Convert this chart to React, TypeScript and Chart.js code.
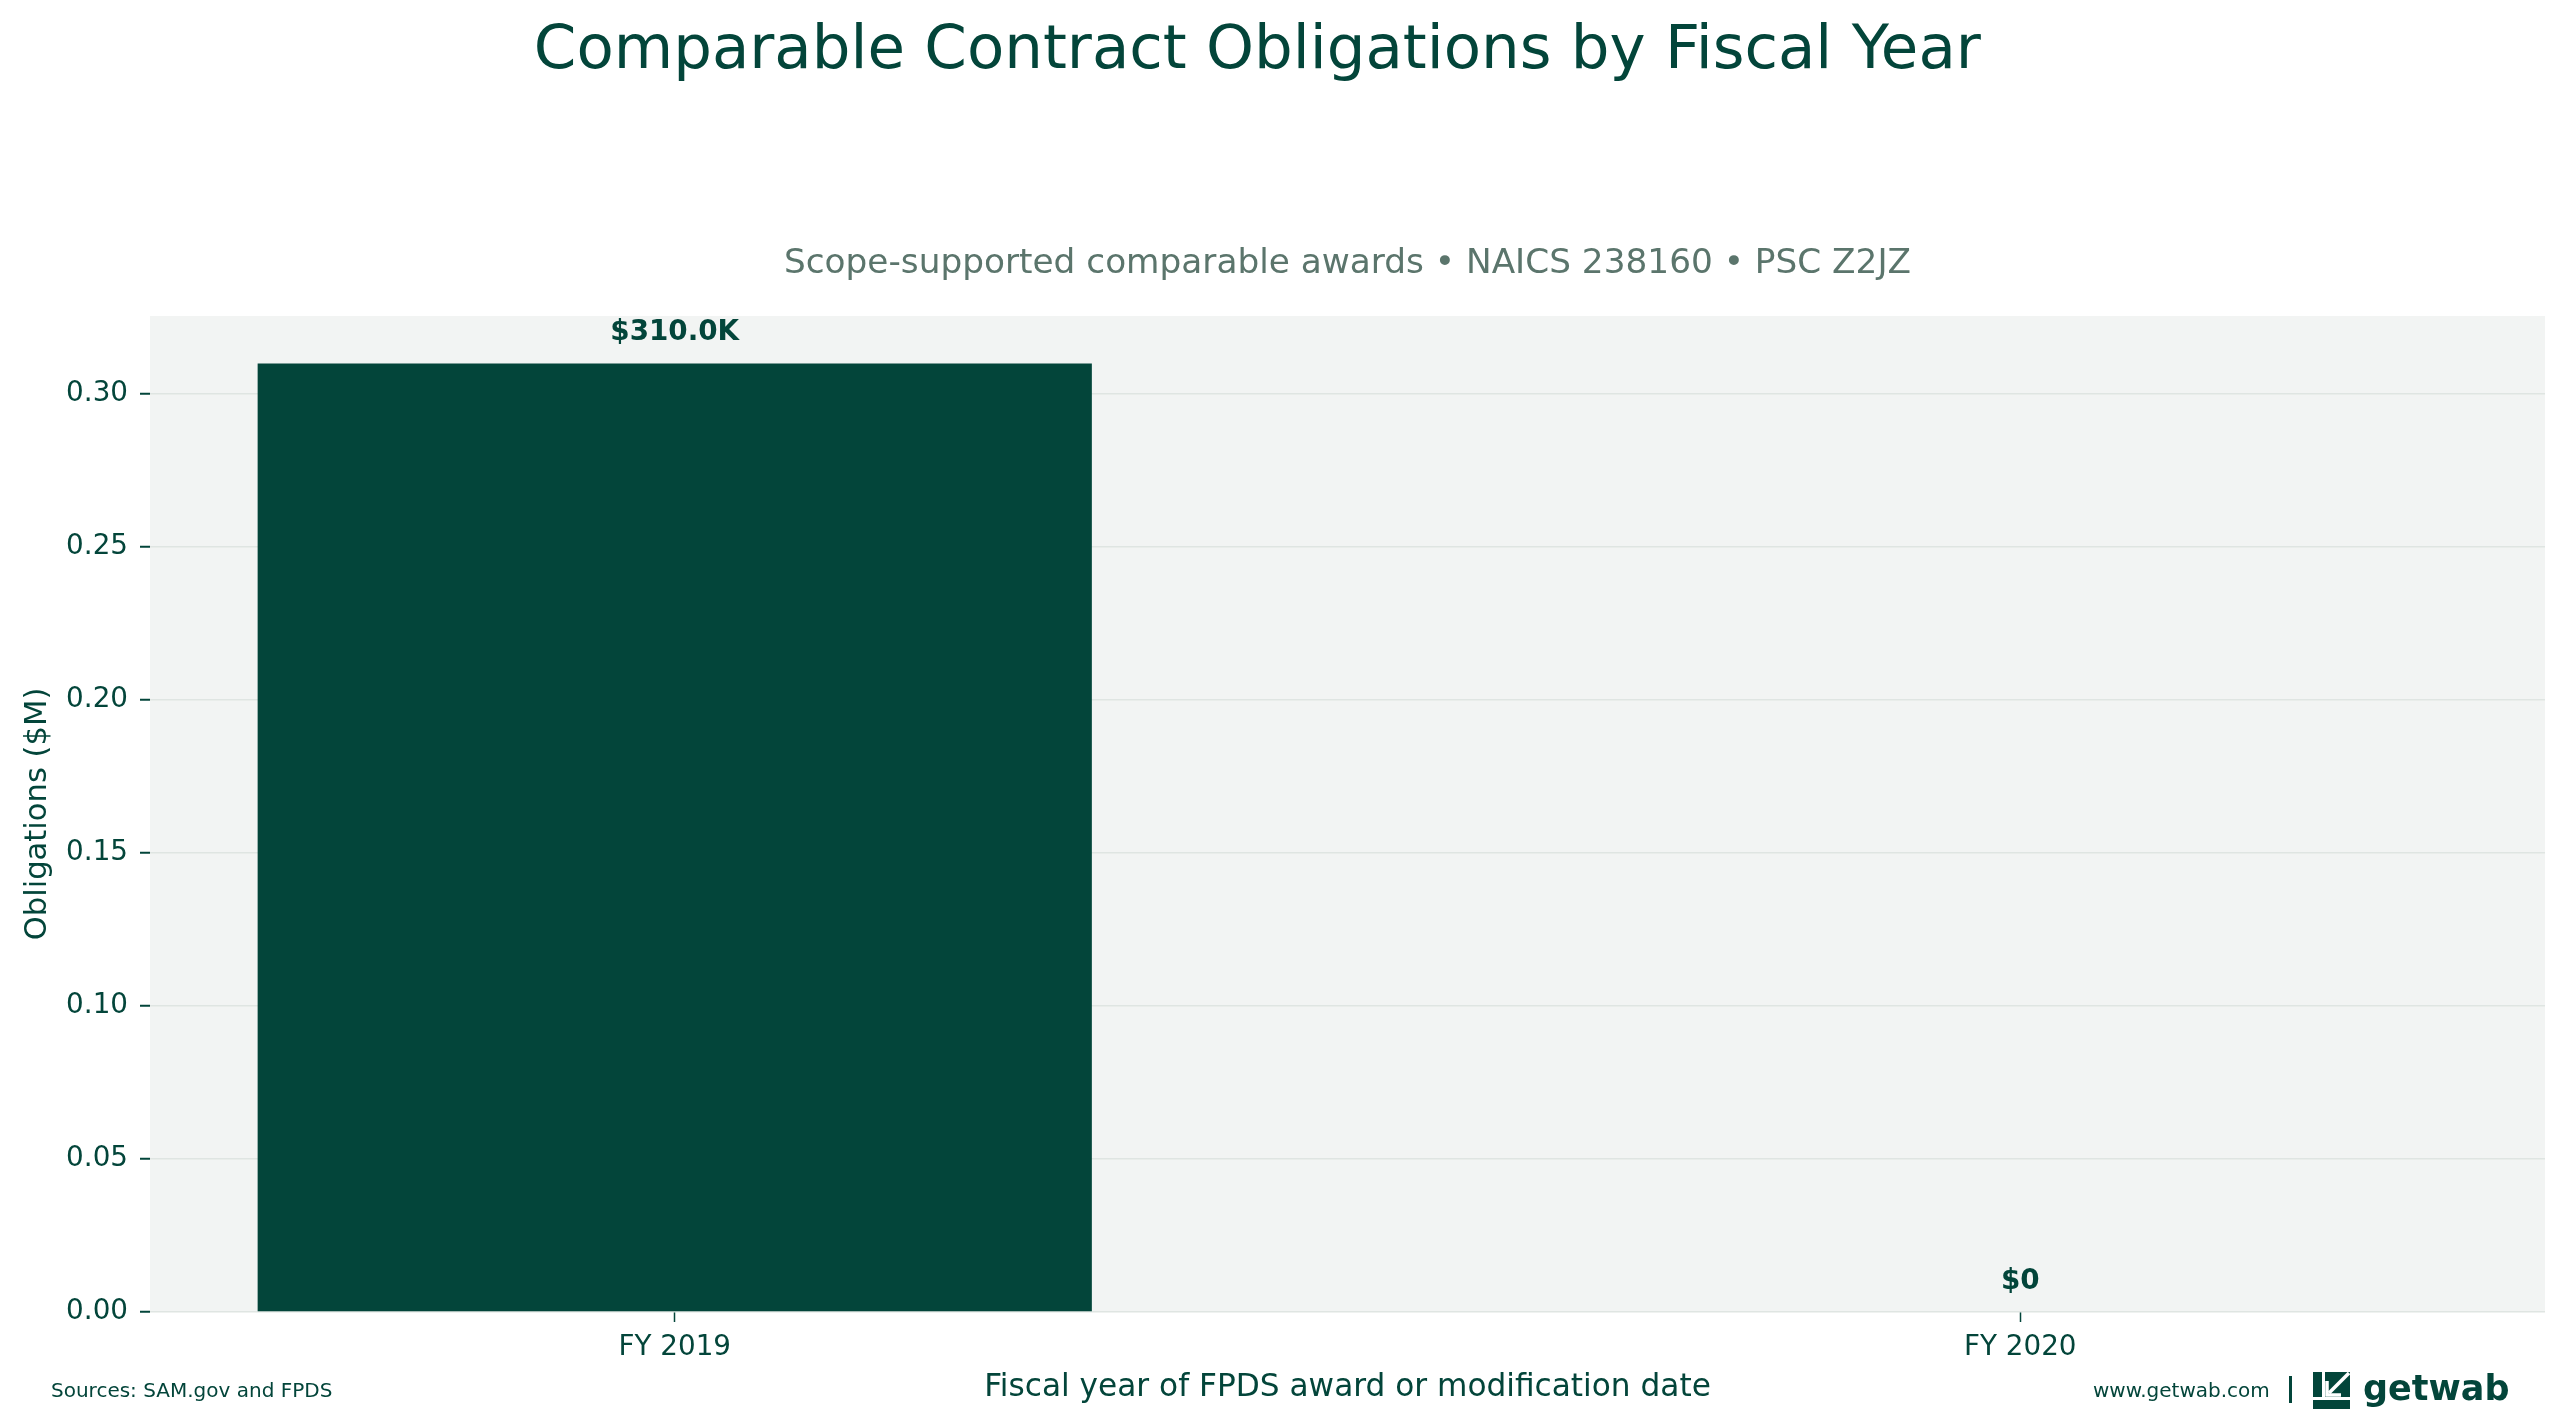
import { useEffect, useRef } from "react";
import { Chart, registerables } from "chart.js";

Chart.register(...registerables);

// data
const fiscalYears = ["FY 2019", "FY 2020"];
const obligationsM = [0.31, 0];
const yTicks = [0, 0.05, 0.1, 0.15, 0.2, 0.25, 0.3];

const TITLE = "Comparable Contract Obligations by Fiscal Year";
const SUBTITLE = "Scope-supported comparable awards \u2022 NAICS 238160 \u2022 PSC Z2JZ";
const X_TITLE = "Fiscal year of FPDS award or modification date";
const Y_TITLE = "Obligations ($M)";
const SOURCES = "Sources: SAM.gov and FPDS";
const SITE = "www.getwab.com";

const GREEN = "#03453a";
const FONT = "DejaVu Sans";

const fmtLabel = (v: number) => (v === 0 ? "$0" : `$${(v * 1000).toFixed(1)}K`);

const drawLogo = (ctx: CanvasRenderingContext2D, x: number, y: number) => {
  // icon: dark block with a white down-left arrow
  ctx.fillStyle = GREEN;
  ctx.fillRect(x, y, 9, 25);
  ctx.fillRect(x + 12, y, 25, 25);
  ctx.fillRect(x, y + 28, 37, 9);
  ctx.strokeStyle = "#ffffff";
  ctx.lineWidth = 3.5;
  ctx.beginPath();
  ctx.moveTo(x + 36, y + 1);
  ctx.lineTo(x + 16, y + 21);
  ctx.stroke();
  ctx.beginPath();
  ctx.moveTo(x + 14, y + 9);
  ctx.lineTo(x + 14, y + 23);
  ctx.lineTo(x + 28, y + 23);
  ctx.stroke();
  // wordmark
  ctx.fillStyle = GREEN;
  ctx.font = `bold 35px ${FONT}`;
  ctx.textAlign = "left";
  ctx.textBaseline = "alphabetic";
  ctx.fillText("getwab", x + 50, y + 28);
};

const overlay = {
  id: "overlay",
  beforeDraw(chart: any) {
    const { ctx, chartArea: a } = chart;
    ctx.save();
    ctx.fillStyle = "#f2f4f3";
    ctx.fillRect(a.left, a.top, a.right - a.left, a.bottom - a.top);
    ctx.restore();
  },
  afterDatasetsDraw(chart: any) {
    const { ctx } = chart;
    const meta = chart.getDatasetMeta(0);
    ctx.save();
    ctx.fillStyle = GREEN;
    ctx.font = `bold 27.8px ${FONT}`;
    ctx.textAlign = "center";
    ctx.textBaseline = "alphabetic";
    meta.data.forEach((bar: any, i: number) => {
      ctx.fillText(fmtLabel(obligationsM[i]), bar.x, bar.y - 23);
    });
    ctx.restore();
  },
  afterDraw(chart: any) {
    const { ctx, chartArea: a, width } = chart;
    ctx.save();
    ctx.textBaseline = "alphabetic";
    ctx.textAlign = "center";
    ctx.fillStyle = GREEN;
    ctx.font = `61px ${FONT}`;
    ctx.fillText(TITLE, width * 0.49, 68);
    ctx.fillStyle = "#5b756c";
    ctx.font = `34.3px ${FONT}`;
    ctx.fillText(SUBTITLE, (a.left + a.right) / 2, 273);

    ctx.fillStyle = GREEN;
    ctx.font = `20px ${FONT}`;
    ctx.textAlign = "left";
    ctx.textBaseline = "middle";
    ctx.fillText(SOURCES, 51, 1392);
    ctx.fillText(SITE, 2093, 1392);
    ctx.fillRect(2289, 1376, 3, 27);
    drawLogo(ctx, 2313, 1372);
    ctx.restore();
  },
};

export default function App() {
  const canvasRef = useRef<HTMLCanvasElement | null>(null);
  const chartRef = useRef<Chart | null>(null);

  useEffect(() => {
    if (!canvasRef.current) return;
    if (chartRef.current) chartRef.current.destroy();
    Chart.defaults.font.family = FONT;
    Chart.defaults.color = GREEN;
    const yMax = Math.max(...obligationsM) * 1.05;
    chartRef.current = new Chart(canvasRef.current, {
      type: "bar",
      data: {
        datasets: [
          {
            data: fiscalYears.map((_, i) => ({ x: i, y: obligationsM[i] })),
            backgroundColor: GREEN,
            barPercentage: 0.62,
            categoryPercentage: 1,
          },
        ],
      },
      options: {
        animation: false,
        responsive: true,
        maintainAspectRatio: false,
        devicePixelRatio: 1,
        layout: { padding: { top: 316, right: 21, left: 0, bottom: 0 } },
        plugins: {
          legend: { display: false },
          tooltip: { enabled: false },
        },
        scales: {
          x: {
            type: "linear",
            min: -0.39,
            max: 1.39,
            offset: false,
            afterBuildTicks: (s: any) => {
              s.ticks = fiscalYears.map((_, i) => ({ value: i }));
            },
            afterFit: (s: any) => {
              s.height = 115;
            },
            ticks: {
              callback: (v: any) => fiscalYears[v] ?? "",
              color: GREEN,
              font: { size: 27.8 },
              padding: 9,
              maxRotation: 0,
              autoSkip: false,
            },
            grid: {
              offset: false,
              drawOnChartArea: false,
              tickLength: 10,
              tickColor: GREEN,
              tickWidth: 1.5,
            },
            border: { display: false },
            title: {
              display: true,
              text: X_TITLE,
              color: GREEN,
              font: { size: 31.2 },
              padding: { top: 0, bottom: 20 },
            },
          },
          y: {
            min: 0,
            max: yMax,
            afterBuildTicks: (s: any) => {
              s.ticks = yTicks.map((v) => ({ value: v }));
            },
            afterFit: (s: any) => {
              s.width = 150;
            },
            ticks: {
              callback: (v: any) => Number(v).toFixed(2),
              color: GREEN,
              font: { size: 27.8 },
              padding: 12,
            },
            grid: {
              color: "#dfe5e2",
              lineWidth: 1.5,
              tickLength: 10,
              tickColor: GREEN,
              tickWidth: 2,
            },
            border: { display: false },
            title: {
              display: true,
              text: Y_TITLE,
              color: GREEN,
              font: { size: 30.6 },
              padding: { top: 20, bottom: 0 },
            },
          },
        },
      } as any,
      plugins: [overlay],
    });
    return () => {
      if (chartRef.current) {
        chartRef.current.destroy();
        chartRef.current = null;
      }
    };
  }, []);

  return (
    <div style={{ position: "fixed", left: 0, top: 0, width: "100vw", height: "100vh", background: "#ffffff" }}>
      <canvas ref={canvasRef}></canvas>
    </div>
  );
}
